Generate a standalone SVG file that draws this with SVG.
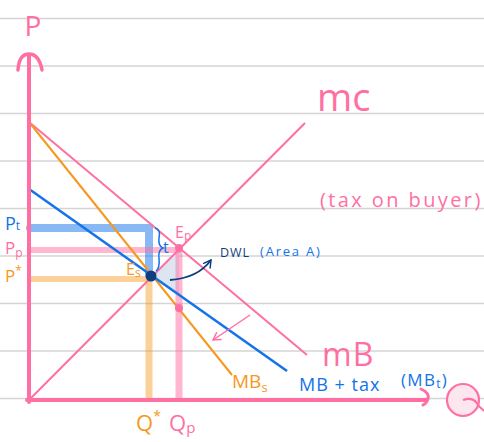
<svg xmlns="http://www.w3.org/2000/svg" width="484" height="442" viewBox="0 0 484 442">
<style>
.rule{stroke:#d4d4d4;stroke-width:1.5}
.pink{stroke:#ff6fa3;fill:none}
.blue{stroke:#1273ea;fill:none}
.orange{stroke:#f7981d;fill:none}
.guide{fill:none;stroke-linecap:round}
text{font-family:"Open Sans","Liberation Sans",sans-serif}
.tp{fill:#ff6fa3}
.tb{fill:#1273ea}
.to{fill:#f7981d}
.tn{fill:#0d3f80}
</style>
<defs>
<marker id="ah" markerWidth="10" markerHeight="10" refX="8" refY="5" orient="auto" markerUnits="userSpaceOnUse">
<path d="M1,1 L8,5 L1,9" fill="none" stroke="#ff6fa3" stroke-width="1.5" stroke-linecap="round"/>
</marker>
<marker id="ahn" markerWidth="10" markerHeight="10" refX="8" refY="5" orient="auto" markerUnits="userSpaceOnUse">
<path d="M1,1 L8,5 L1,9" fill="none" stroke="#0d3f80" stroke-width="1.5" stroke-linecap="round"/>
</marker>
</defs>
<rect width="484" height="442" fill="#ffffff"/>
<g id="paper">
<line class="rule" x1="0" y1="18.5" x2="484" y2="18.5"/>
<line class="rule" x1="0" y1="66" x2="484" y2="66"/>
<line class="rule" x1="0" y1="113.5" x2="484" y2="113.5"/>
<line class="rule" x1="0" y1="161" x2="484" y2="161"/>
<line class="rule" x1="0" y1="208.5" x2="484" y2="208.5"/>
<line class="rule" x1="0" y1="256" x2="484" y2="256"/>
<line class="rule" x1="0" y1="303.5" x2="484" y2="303.5"/>
<line class="rule" x1="0" y1="351" x2="484" y2="351"/>
<line class="rule" x1="0" y1="398.5" x2="484" y2="398.5"/>
</g>
<g id="guides">
<polygon points="151,277 179,249 179,296" fill="#dde5f0"/>
<path class="guide" d="M30,228 H149 V274" stroke="#1273ea" stroke-opacity="0.5" stroke-width="8"/>
<line class="guide" x1="30" y1="250" x2="179" y2="250" stroke="#ff6fa3" stroke-opacity="0.5" stroke-width="6"/>
<line class="guide" x1="30" y1="279" x2="149" y2="279" stroke="#f7981d" stroke-opacity="0.45" stroke-width="6"/>
<line class="guide" x1="149" y1="281" x2="149" y2="398" stroke="#f7981d" stroke-opacity="0.45" stroke-width="7"/>
<line class="guide" x1="179" y1="252" x2="179" y2="398" stroke="#ff6fa3" stroke-opacity="0.5" stroke-width="7"/>
</g>
<g id="connectors">
<line id="mc-line" class="pink" x1="29" y1="400" x2="305" y2="123" stroke-width="2"/>
<line id="mb-line" class="pink" x1="29" y1="122" x2="307" y2="355" stroke-width="2"/>
<line id="mbs-line" class="orange" x1="29" y1="122" x2="232" y2="375" stroke-width="2"/>
<line id="mbtax-line" class="blue" x1="29" y1="189" x2="287" y2="371" stroke-width="2.5"/>
<line id="shift-arrow" class="pink" x1="250" y1="315" x2="213" y2="340" stroke-width="1.5" marker-end="url(#ah)"/>
<path id="dwl-arrow" d="M170,280 Q198,278 211,260" fill="none" stroke="#0d3f80" stroke-width="1.8" marker-end="url(#ahn)"/>
<path id="t-brace" d="M155,228 Q161,229 159,238 Q158,246 163,248 Q158,250 159,258 Q160,268 156,271" fill="none" stroke="#1273ea" stroke-width="1.5"/>
</g>
<g id="axes">
<line x1="29" y1="55" x2="29" y2="402" stroke="#ff6fa3" stroke-width="4" stroke-linecap="round"/>
<path d="M18,70 Q19,54 29,54 Q39,54 42,70" fill="none" stroke="#ff6fa3" stroke-width="3.5" stroke-linecap="round"/>
<line x1="27" y1="400" x2="426" y2="400" stroke="#ff6fa3" stroke-width="4" stroke-linecap="round"/>
<path d="M421,389 Q430,393 428,399 Q427,403 423,405" fill="none" stroke="#ff6fa3" stroke-width="3" stroke-linecap="round"/>
</g>
<g id="points">
<circle id="Es" cx="151" cy="276" r="5.5" fill="#0d3f80"/>
<circle id="Ep" cx="179" cy="248" r="4" fill="#ff6fa3"/>
<circle id="p3" cx="179" cy="308" r="4" fill="#ff6fa3"/>
</g>
<g id="label-P"><text class="tp" x="33" y="36" font-size="28" text-anchor="middle">P</text></g>
<g id="label-Q">
<circle cx="463" cy="400" r="16" fill="#fde6ee" stroke="#ff6fa3" stroke-width="2.2"/>
<path d="M463,400 Q472,397 476,402 Q479,407 484,411" fill="none" stroke="#ff6fa3" stroke-width="2.2"/>
</g>
<g id="label-Pt"><text class="tb" x="5" y="230" font-size="18">P<tspan font-size="12" dy="0">t</tspan></text></g>
<g id="label-Pp"><text class="tp" x="5" y="254" font-size="17">P<tspan font-size="12" dy="3">p</tspan></text></g>
<g id="label-Pstar"><text class="to" x="5" y="282" font-size="17">P<tspan font-size="12" dy="-7">*</tspan></text></g>
<g id="label-Es"><text class="to" x="126" y="275" font-size="16">E<tspan font-size="12" dy="2">s</tspan></text></g>
<g id="label-Ep"><text class="tp" x="175" y="238" font-size="16">E<tspan font-size="12" dy="2">p</tspan></text></g>
<g id="label-t"><text class="tb" x="163" y="253" font-size="16">t</text></g>
<g id="label-DWL"><text class="tn" x="220" y="257" font-size="12.5" letter-spacing="1">DWL</text><text class="tb" x="260" y="256" font-size="13" letter-spacing="1.8">(Area A)</text></g>
<g id="label-mc"><text class="tp" x="317" y="111" font-size="38">mc</text></g>
<g id="label-tax"><text class="tp" x="320" y="207" font-size="20" letter-spacing="2.4">(tax on buyer)</text></g>
<g id="label-mB"><text class="tp" x="322" y="366" font-size="32" letter-spacing="1">mB</text></g>
<g id="label-MBs"><text class="to" x="232" y="388" font-size="19">MB<tspan font-size="13" dy="4">s</tspan></text></g>
<g id="label-MBtax"><text class="tb" x="299" y="391" font-size="18" letter-spacing="1">MB + tax</text><text class="tb" x="401" y="386" font-size="17" letter-spacing="1.3">(MB<tspan font-size="12" dy="2">t</tspan><tspan dy="-2">)</tspan></text></g>
<g id="label-Qstar"><text class="to" x="136" y="431" font-size="22">Q<tspan font-size="14" dy="-10">*</tspan></text></g>
<g id="label-Qp"><text class="tp" x="169" y="431" font-size="22">Q<tspan font-size="15" dy="2">p</tspan></text></g>
</svg>
